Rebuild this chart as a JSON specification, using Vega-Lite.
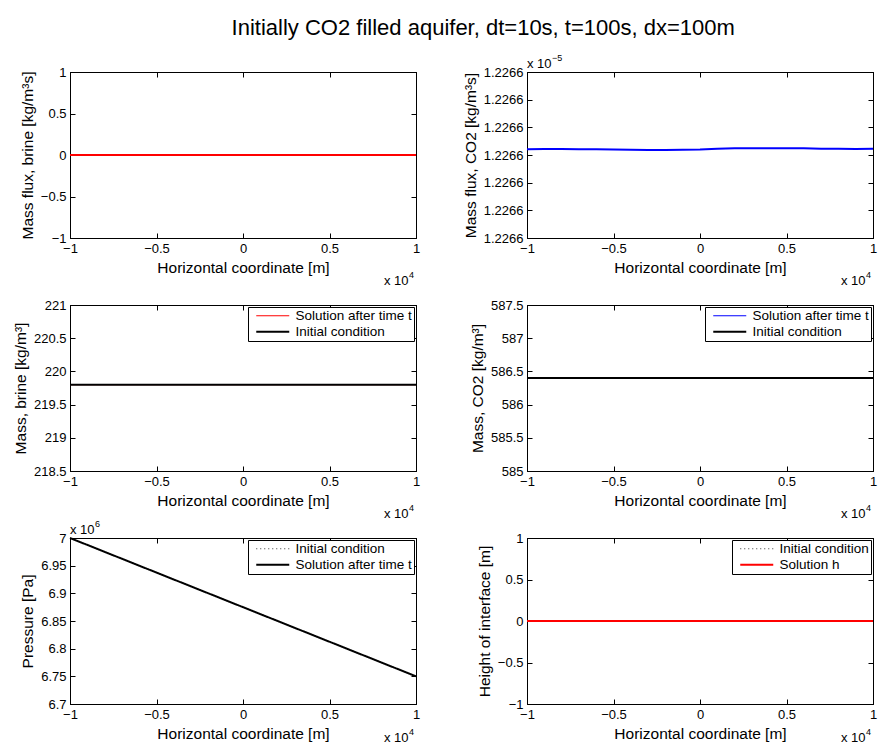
{
  "$schema": "https://vega.github.io/schema/vega-lite/v6.json",
  "padding": {"left": 12, "top": 16, "right": 0, "bottom": 0},
  "background": "white",
  "title": {"text": "Initially CO2 filled aquifer, dt=10s, t=100s, dx=100m", "anchor": "middle", "frame": "bounds", "dx": 38, "offset": 14, "fontSize": 22, "fontWeight": "normal", "font": "Liberation Sans", "color": "black"},
  "columns": 2,
  "spacing": {"row": 67, "column": 111},
  "bounds": "flush",
  "resolve": {
    "scale": {"x": "independent", "y": "independent", "color": "independent", "strokeWidth": "independent", "strokeDash": "independent"},
    "legend": {"color": "independent", "strokeWidth": "independent", "strokeDash": "independent"}
  },
  "concat": [
    {
      "width": 346, "height": 166,
      "data": {"values": [{"x": -10000, "y": 0}, {"x": 0, "y": 0}, {"x": 10000, "y": 0}]},
      "layer": [
        {"mark": {"type": "line", "color": "#ff0000", "strokeWidth": 2},
         "encoding": {
           "x": {"field": "x", "type": "quantitative", "scale": {"domain": [-10000, 10000], "nice": false, "zero": false}, "axis": {"values": [-10000, -5000, 0, 5000, 10000], "labelExpr": "format(datum.value/10000, '~g')", "title": "Horizontal coordinate [m]"}},
           "y": {"field": "y", "type": "quantitative", "scale": {"domain": [-1, 1], "nice": false, "zero": false}, "axis": {"values": [-1, -0.5, 0, 0.5, 1], "labelExpr": "format(datum.value, '~g')", "title": "Mass flux, brine [kg/m³s]"}}
         }},
        {"mark": {"type": "line", "opacity": 0},
         "encoding": {
           "x": {"field": "x", "type": "quantitative", "scale": {"domain": [-10000, 10000], "nice": false, "zero": false}, "axis": {"orient": "top", "values": [-10000, -5000, 0, 5000, 10000], "labels": false, "title": null}},
           "y": {"field": "y", "type": "quantitative", "scale": {"domain": [-1, 1], "nice": false, "zero": false}, "axis": {"orient": "right", "values": [-1, -0.5, 0, 0.5, 1], "labels": false, "title": null}}
         }},
        {"data": {"values": [{"t": "x 10", "e": "4"}]},
         "layer": [
           {"mark": {"type": "text", "align": "left", "baseline": "alphabetic", "fontSize": 13, "dx": -32, "dy": 47, "color": "black"},
            "encoding": {"x": {"datum": 10000, "type": "quantitative", "axis": null}, "y": {"datum": -1, "type": "quantitative", "axis": null}, "text": {"field": "t"}}},
           {"mark": {"type": "text", "align": "left", "baseline": "alphabetic", "fontSize": 9, "dx": -7, "dy": 40, "color": "black"},
            "encoding": {"x": {"datum": 10000, "type": "quantitative", "axis": null}, "y": {"datum": -1, "type": "quantitative", "axis": null}, "text": {"field": "e"}}}
         ]}
      ],
      "resolve": {"axis": {"x": "independent", "y": "independent"}}
    },
    {
      "width": 346, "height": 166,
      "data": {"values": [
        {"x": -10000, "y": 1.2266021e-5}, {"x": -9000, "y": 1.2266022e-5}, {"x": -8000, "y": 1.2266022e-5}, {"x": -7000, "y": 1.2266021e-5},
        {"x": -6000, "y": 1.2266021e-5}, {"x": -5000, "y": 1.226602e-5}, {"x": -4000, "y": 1.2266019e-5}, {"x": -3000, "y": 1.2266018e-5},
        {"x": -2000, "y": 1.2266018e-5}, {"x": -1000, "y": 1.2266019e-5}, {"x": 0, "y": 1.226602e-5}, {"x": 1000, "y": 1.2266023e-5},
        {"x": 2000, "y": 1.2266024e-5}, {"x": 3000, "y": 1.2266024e-5}, {"x": 4000, "y": 1.2266024e-5}, {"x": 5000, "y": 1.2266024e-5},
        {"x": 6000, "y": 1.2266024e-5}, {"x": 7000, "y": 1.2266023e-5}, {"x": 8000, "y": 1.2266023e-5}, {"x": 9000, "y": 1.2266022e-5},
        {"x": 10000, "y": 1.2266023e-5}
      ]},
      "layer": [
        {"mark": {"type": "line", "color": "#0000ff", "strokeWidth": 2},
         "encoding": {
           "x": {"field": "x", "type": "quantitative", "scale": {"domain": [-10000, 10000], "nice": false, "zero": false}, "axis": {"values": [-10000, -5000, 0, 5000, 10000], "labelExpr": "format(datum.value/10000, '~g')", "title": "Horizontal coordinate [m]"}},
           "y": {"field": "y", "type": "quantitative", "scale": {"domain": [1.22657e-5, 1.22663e-5], "nice": false, "zero": false}, "axis": {"values": [1.22657e-5, 1.22658e-5, 1.22659e-5, 1.2266e-5, 1.22661e-5, 1.22662e-5, 1.22663e-5], "labelExpr": "format(datum.value*100000, '.4f')", "title": "Mass flux, CO2 [kg/m³s]"}}
         }},
        {"mark": {"type": "line", "opacity": 0},
         "encoding": {
           "x": {"field": "x", "type": "quantitative", "scale": {"domain": [-10000, 10000], "nice": false, "zero": false}, "axis": {"orient": "top", "values": [-10000, -5000, 0, 5000, 10000], "labels": false, "title": null}},
           "y": {"field": "y", "type": "quantitative", "scale": {"domain": [1.22657e-5, 1.22663e-5], "nice": false, "zero": false}, "axis": {"orient": "right", "values": [1.22657e-5, 1.22658e-5, 1.22659e-5, 1.2266e-5, 1.22661e-5, 1.22662e-5, 1.22663e-5], "labels": false, "title": null}}
         }},
        {"data": {"values": [{"t": "x 10", "e": "4", "e2": "−5"}]},
         "layer": [
           {"mark": {"type": "text", "align": "left", "baseline": "alphabetic", "fontSize": 13, "dx": -32, "dy": 47, "color": "black"},
            "encoding": {"x": {"datum": 10000, "type": "quantitative", "axis": null}, "y": {"datum": 1.22657e-5, "type": "quantitative", "axis": null}, "text": {"field": "t"}}},
           {"mark": {"type": "text", "align": "left", "baseline": "alphabetic", "fontSize": 9, "dx": -7, "dy": 40, "color": "black"},
            "encoding": {"x": {"datum": 10000, "type": "quantitative", "axis": null}, "y": {"datum": 1.22657e-5, "type": "quantitative", "axis": null}, "text": {"field": "e"}}},
           {"mark": {"type": "text", "align": "left", "baseline": "alphabetic", "fontSize": 13, "dx": 0, "dy": -4, "color": "black"},
            "encoding": {"x": {"datum": -10000, "type": "quantitative", "axis": null}, "y": {"datum": 1.22663e-5, "type": "quantitative", "axis": null}, "text": {"field": "t"}}},
           {"mark": {"type": "text", "align": "left", "baseline": "alphabetic", "fontSize": 9, "dx": 25, "dy": -11, "color": "black"},
            "encoding": {"x": {"datum": -10000, "type": "quantitative", "axis": null}, "y": {"datum": 1.22663e-5, "type": "quantitative", "axis": null}, "text": {"field": "e2"}}}
         ]}
      ],
      "resolve": {"axis": {"x": "independent", "y": "independent"}}
    },
    {
      "width": 346, "height": 166,
      "data": {"values": [
        {"x": -10000, "y": 219.8, "series": "Solution after time t"}, {"x": 10000, "y": 219.8, "series": "Solution after time t"},
        {"x": -10000, "y": 219.8, "series": "Initial condition"}, {"x": 10000, "y": 219.8, "series": "Initial condition"}
      ]},
      "layer": [
        {"mark": {"type": "line"},
         "encoding": {
           "x": {"field": "x", "type": "quantitative", "scale": {"domain": [-10000, 10000], "nice": false, "zero": false}, "axis": {"values": [-10000, -5000, 0, 5000, 10000], "labelExpr": "format(datum.value/10000, '~g')", "title": "Horizontal coordinate [m]"}},
           "y": {"field": "y", "type": "quantitative", "scale": {"domain": [218.5, 221], "nice": false, "zero": false}, "axis": {"values": [218.5, 219, 219.5, 220, 220.5, 221], "labelExpr": "format(datum.value, '~g')", "title": "Mass, brine [kg/m³]"}},
           "color": {"field": "series", "type": "nominal", "scale": {"domain": ["Solution after time t", "Initial condition"], "range": ["#ff0000", "#000000"]}, "legend": {"title": null}},
           "strokeWidth": {"field": "series", "type": "nominal", "scale": {"domain": ["Solution after time t", "Initial condition"], "range": [1, 2]}, "legend": {"title": null}}
         }},
        {"mark": {"type": "line", "opacity": 0},
         "encoding": {
           "x": {"field": "x", "type": "quantitative", "scale": {"domain": [-10000, 10000], "nice": false, "zero": false}, "axis": {"orient": "top", "values": [-10000, -5000, 0, 5000, 10000], "labels": false, "title": null}},
           "y": {"field": "y", "type": "quantitative", "scale": {"domain": [218.5, 221], "nice": false, "zero": false}, "axis": {"orient": "right", "values": [218.5, 219, 219.5, 220, 220.5, 221], "labels": false, "title": null}}
         }},
        {"data": {"values": [{"t": "x 10", "e": "4"}]},
         "layer": [
           {"mark": {"type": "text", "align": "left", "baseline": "alphabetic", "fontSize": 13, "dx": -32, "dy": 47, "color": "black"},
            "encoding": {"x": {"datum": 10000, "type": "quantitative", "axis": null}, "y": {"datum": 218.5, "type": "quantitative", "axis": null}, "text": {"field": "t"}}},
           {"mark": {"type": "text", "align": "left", "baseline": "alphabetic", "fontSize": 9, "dx": -7, "dy": 40, "color": "black"},
            "encoding": {"x": {"datum": 10000, "type": "quantitative", "axis": null}, "y": {"datum": 218.5, "type": "quantitative", "axis": null}, "text": {"field": "e"}}}
         ]}
      ],
      "resolve": {"axis": {"x": "independent", "y": "independent"}}
    },
    {
      "width": 346, "height": 166,
      "data": {"values": [
        {"x": -10000, "y": 586.4, "series": "Solution after time t"}, {"x": 10000, "y": 586.4, "series": "Solution after time t"},
        {"x": -10000, "y": 586.4, "series": "Initial condition"}, {"x": 10000, "y": 586.4, "series": "Initial condition"}
      ]},
      "layer": [
        {"mark": {"type": "line"},
         "encoding": {
           "x": {"field": "x", "type": "quantitative", "scale": {"domain": [-10000, 10000], "nice": false, "zero": false}, "axis": {"values": [-10000, -5000, 0, 5000, 10000], "labelExpr": "format(datum.value/10000, '~g')", "title": "Horizontal coordinate [m]"}},
           "y": {"field": "y", "type": "quantitative", "scale": {"domain": [585, 587.5], "nice": false, "zero": false}, "axis": {"values": [585, 585.5, 586, 586.5, 587, 587.5], "labelExpr": "format(datum.value, '~g')", "title": "Mass, CO2 [kg/m³]"}},
           "color": {"field": "series", "type": "nominal", "scale": {"domain": ["Solution after time t", "Initial condition"], "range": ["#0000ff", "#000000"]}, "legend": {"title": null}},
           "strokeWidth": {"field": "series", "type": "nominal", "scale": {"domain": ["Solution after time t", "Initial condition"], "range": [1, 2]}, "legend": {"title": null}}
         }},
        {"mark": {"type": "line", "opacity": 0},
         "encoding": {
           "x": {"field": "x", "type": "quantitative", "scale": {"domain": [-10000, 10000], "nice": false, "zero": false}, "axis": {"orient": "top", "values": [-10000, -5000, 0, 5000, 10000], "labels": false, "title": null}},
           "y": {"field": "y", "type": "quantitative", "scale": {"domain": [585, 587.5], "nice": false, "zero": false}, "axis": {"orient": "right", "values": [585, 585.5, 586, 586.5, 587, 587.5], "labels": false, "title": null}}
         }},
        {"data": {"values": [{"t": "x 10", "e": "4"}]},
         "layer": [
           {"mark": {"type": "text", "align": "left", "baseline": "alphabetic", "fontSize": 13, "dx": -32, "dy": 47, "color": "black"},
            "encoding": {"x": {"datum": 10000, "type": "quantitative", "axis": null}, "y": {"datum": 585, "type": "quantitative", "axis": null}, "text": {"field": "t"}}},
           {"mark": {"type": "text", "align": "left", "baseline": "alphabetic", "fontSize": 9, "dx": -7, "dy": 40, "color": "black"},
            "encoding": {"x": {"datum": 10000, "type": "quantitative", "axis": null}, "y": {"datum": 585, "type": "quantitative", "axis": null}, "text": {"field": "e"}}}
         ]}
      ],
      "resolve": {"axis": {"x": "independent", "y": "independent"}}
    },
    {
      "width": 346, "height": 166,
      "data": {"values": [
        {"x": -10000, "y": 7000000, "series": "Initial condition"}, {"x": 10000, "y": 6750000, "series": "Initial condition"},
        {"x": -10000, "y": 7000000, "series": "Solution after time t"}, {"x": 10000, "y": 6750000, "series": "Solution after time t"}
      ]},
      "layer": [
        {"mark": {"type": "line"},
         "encoding": {
           "x": {"field": "x", "type": "quantitative", "scale": {"domain": [-10000, 10000], "nice": false, "zero": false}, "axis": {"values": [-10000, -5000, 0, 5000, 10000], "labelExpr": "format(datum.value/10000, '~g')", "title": "Horizontal coordinate [m]"}},
           "y": {"field": "y", "type": "quantitative", "scale": {"domain": [6700000, 7000000], "nice": false, "zero": false}, "axis": {"values": [6700000, 6750000, 6800000, 6850000, 6900000, 6950000, 7000000], "labelExpr": "format(datum.value/1000000, '~g')", "title": "Pressure [Pa]"}},
           "color": {"field": "series", "type": "nominal", "scale": {"domain": ["Initial condition", "Solution after time t"], "range": ["#000000", "#000000"]}, "legend": {"title": null}},
           "strokeWidth": {"field": "series", "type": "nominal", "scale": {"domain": ["Initial condition", "Solution after time t"], "range": [0.8, 2]}, "legend": {"title": null}},
           "strokeDash": {"field": "series", "type": "nominal", "scale": {"domain": ["Initial condition", "Solution after time t"], "range": [[1, 3], [1, 0]]}, "legend": {"title": null}}
         }},
        {"mark": {"type": "line", "opacity": 0},
         "encoding": {
           "x": {"field": "x", "type": "quantitative", "scale": {"domain": [-10000, 10000], "nice": false, "zero": false}, "axis": {"orient": "top", "values": [-10000, -5000, 0, 5000, 10000], "labels": false, "title": null}},
           "y": {"field": "y", "type": "quantitative", "scale": {"domain": [6700000, 7000000], "nice": false, "zero": false}, "axis": {"orient": "right", "values": [6700000, 6750000, 6800000, 6850000, 6900000, 6950000, 7000000], "labels": false, "title": null}}
         }},
        {"data": {"values": [{"t": "x 10", "e": "4", "e2": "6"}]},
         "layer": [
           {"mark": {"type": "text", "align": "left", "baseline": "alphabetic", "fontSize": 13, "dx": -32, "dy": 38, "color": "black"},
            "encoding": {"x": {"datum": 10000, "type": "quantitative", "axis": null}, "y": {"datum": 6700000, "type": "quantitative", "axis": null}, "text": {"field": "t"}}},
           {"mark": {"type": "text", "align": "left", "baseline": "alphabetic", "fontSize": 9, "dx": -7, "dy": 31, "color": "black"},
            "encoding": {"x": {"datum": 10000, "type": "quantitative", "axis": null}, "y": {"datum": 6700000, "type": "quantitative", "axis": null}, "text": {"field": "e"}}},
           {"mark": {"type": "text", "align": "left", "baseline": "alphabetic", "fontSize": 13, "dx": 0, "dy": -4, "color": "black"},
            "encoding": {"x": {"datum": -10000, "type": "quantitative", "axis": null}, "y": {"datum": 7000000, "type": "quantitative", "axis": null}, "text": {"field": "t"}}},
           {"mark": {"type": "text", "align": "left", "baseline": "alphabetic", "fontSize": 9, "dx": 25, "dy": -11, "color": "black"},
            "encoding": {"x": {"datum": -10000, "type": "quantitative", "axis": null}, "y": {"datum": 7000000, "type": "quantitative", "axis": null}, "text": {"field": "e2"}}}
         ]}
      ],
      "resolve": {"axis": {"x": "independent", "y": "independent"}}
    },
    {
      "width": 346, "height": 166,
      "data": {"values": [
        {"x": -10000, "y": 0, "series": "Initial condition"}, {"x": 10000, "y": 0, "series": "Initial condition"},
        {"x": -10000, "y": 0, "series": "Solution h"}, {"x": 10000, "y": 0, "series": "Solution h"}
      ]},
      "layer": [
        {"mark": {"type": "line"},
         "encoding": {
           "x": {"field": "x", "type": "quantitative", "scale": {"domain": [-10000, 10000], "nice": false, "zero": false}, "axis": {"values": [-10000, -5000, 0, 5000, 10000], "labelExpr": "format(datum.value/10000, '~g')", "title": "Horizontal coordinate [m]"}},
           "y": {"field": "y", "type": "quantitative", "scale": {"domain": [-1, 1], "nice": false, "zero": false}, "axis": {"values": [-1, -0.5, 0, 0.5, 1], "labelExpr": "format(datum.value, '~g')", "title": "Height of interface [m]"}},
           "color": {"field": "series", "type": "nominal", "scale": {"domain": ["Initial condition", "Solution h"], "range": ["#000000", "#ff0000"]}, "legend": {"title": null}},
           "strokeWidth": {"field": "series", "type": "nominal", "scale": {"domain": ["Initial condition", "Solution h"], "range": [0.8, 2]}, "legend": {"title": null}},
           "strokeDash": {"field": "series", "type": "nominal", "scale": {"domain": ["Initial condition", "Solution h"], "range": [[1, 3], [1, 0]]}, "legend": {"title": null}}
         }},
        {"mark": {"type": "line", "opacity": 0},
         "encoding": {
           "x": {"field": "x", "type": "quantitative", "scale": {"domain": [-10000, 10000], "nice": false, "zero": false}, "axis": {"orient": "top", "values": [-10000, -5000, 0, 5000, 10000], "labels": false, "title": null}},
           "y": {"field": "y", "type": "quantitative", "scale": {"domain": [-1, 1], "nice": false, "zero": false}, "axis": {"orient": "right", "values": [-1, -0.5, 0, 0.5, 1], "labels": false, "title": null}}
         }},
        {"data": {"values": [{"t": "x 10", "e": "4"}]},
         "layer": [
           {"mark": {"type": "text", "align": "left", "baseline": "alphabetic", "fontSize": 13, "dx": -32, "dy": 38, "color": "black"},
            "encoding": {"x": {"datum": 10000, "type": "quantitative", "axis": null}, "y": {"datum": -1, "type": "quantitative", "axis": null}, "text": {"field": "t"}}},
           {"mark": {"type": "text", "align": "left", "baseline": "alphabetic", "fontSize": 9, "dx": -7, "dy": 31, "color": "black"},
            "encoding": {"x": {"datum": 10000, "type": "quantitative", "axis": null}, "y": {"datum": -1, "type": "quantitative", "axis": null}, "text": {"field": "e"}}}
         ]}
      ],
      "resolve": {"axis": {"x": "independent", "y": "independent"}}
    }
  ],
  "config": {
    "font": "Liberation Sans",
    "view": {"stroke": "black", "strokeWidth": 1},
    "text": {"font": "Liberation Sans"},
    "axis": {"grid": false, "domainColor": "black", "domainWidth": 1, "tickColor": "black", "tickSize": -5, "tickWidth": 1,
      "labelFont": "Liberation Sans", "labelFontSize": 13, "labelColor": "black", "labelPadding": 9, "labelFlush": false, "labelOverlap": false,
      "titleFont": "Liberation Sans", "titleFontSize": 15.5, "titleFontWeight": "normal", "titleColor": "black", "titlePadding": 5},
    "legend": {"orient": "top-right", "offset": 2, "padding": 2, "strokeColor": "black", "fillColor": "white", "symbolType": "M-3,0H3", "symbolSize": 121, "symbolOffset": 16,
      "labelFont": "Liberation Sans", "labelFontSize": 13.5, "labelColor": "black", "rowPadding": 1, "labelOffset": 16, "cornerRadius": 0, "labelLimit": 200}
  }
}
